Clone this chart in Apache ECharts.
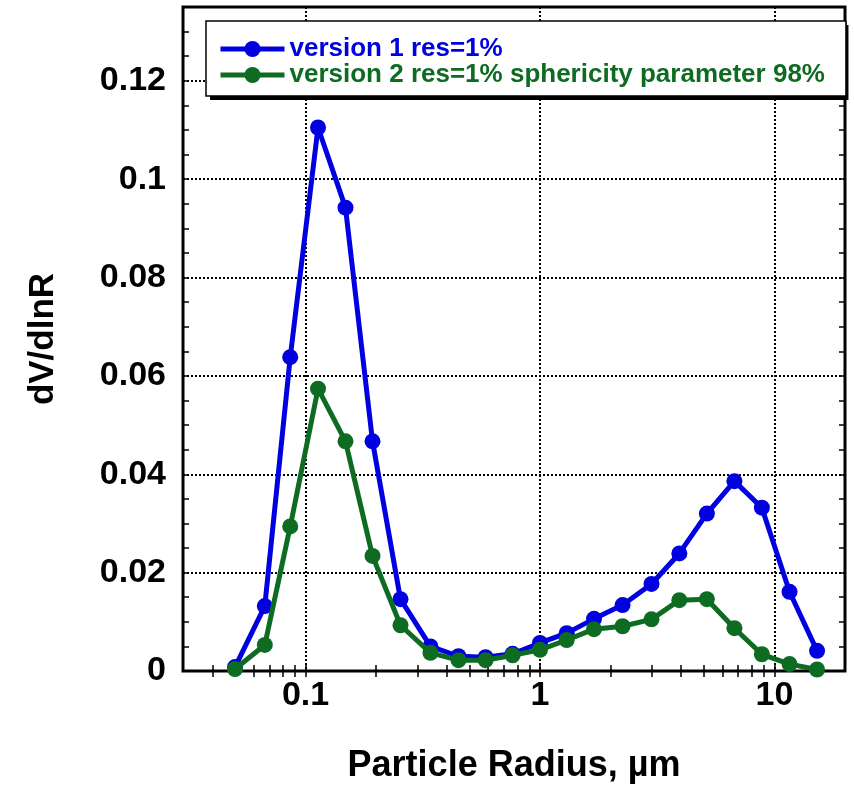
<!DOCTYPE html>
<html>
<head>
<meta charset="utf-8">
<script src="https://cdn.jsdelivr.net/npm/echarts@6.0.0/dist/echarts.min.js"></script>
<style>
  html, body { margin: 0; padding: 0; background: #fff; }
  #chart { width: 854px; height: 787px; }
</style>
</head>
<body>
<div id="chart"></div>
<script>
// ---- data ----
const radius = [0.05, 0.067, 0.086, 0.113, 0.148, 0.193, 0.254, 0.341, 0.449, 0.586, 0.764, 1.0, 1.30, 1.70, 2.25, 2.99, 3.93, 5.15, 6.75, 8.84, 11.6, 15.2];
const version1 = [0.0008, 0.0132, 0.0638, 0.1105, 0.0942, 0.0467, 0.0146, 0.0050, 0.0030, 0.0028, 0.0035, 0.0057, 0.0077, 0.0106, 0.0134, 0.0177, 0.0239, 0.0320, 0.0386, 0.0332, 0.0161, 0.0041];
const version2 = [0.0004, 0.0053, 0.0294, 0.0574, 0.0467, 0.0234, 0.0093, 0.0037, 0.0022, 0.0022, 0.0032, 0.0043, 0.0063, 0.0085, 0.0091, 0.0105, 0.0144, 0.0146, 0.0087, 0.0034, 0.0014, 0.0003];
const seriesNames = ['version 1 res=1%', 'version 2 res=1% sphericity parameter 98%'];
const xMajorTicks = [0.1, 1, 10];
const xMinorTicks = [0.04, 0.05, 0.06, 0.07, 0.08, 0.09, 0.2, 0.3, 0.4, 0.5, 0.6, 0.7, 0.8, 0.9, 2, 3, 4, 5, 6, 7, 8, 9];
const yMinorTicks = [0.005, 0.01, 0.015, 0.02, 0.025, 0.03, 0.035, 0.04, 0.045, 0.05, 0.055, 0.06, 0.065, 0.07, 0.075, 0.08, 0.085, 0.09, 0.095, 0.1, 0.105, 0.11, 0.115, 0.12, 0.125, 0.13];

const BLUE = '#0000e0';
const GREEN = '#0e6b22';
const FONT = '"Liberation Sans", Arial, sans-serif';

const pairs = (xs, ys) => xs.map((x, i) => [x, ys[i]]);

const X_MIN = 0.03, X_MAX = 20, Y_MIN = 0, Y_MAX = 0.135;

const chart = echarts.init(document.getElementById('chart'), null, { renderer: 'canvas' });

const tickStyle = { color: '#000', width: 1.5 };
const hiddenLine = { show: false };

const legendLayout = {
  orient: 'vertical',
  left: 206, top: 21,
  padding: [15, 21, 8, 12],
  itemWidth: 64, itemHeight: 20, itemGap: 0,
  backgroundColor: '#fff',
  selectedMode: false
};
const legendFont = { fontFamily: FONT, fontWeight: 'bold', fontSize: 26 };

chart.setOption({
  animation: false,
  backgroundColor: '#fff',
  grid: {
    left: 183, right: 9, top: 7, bottom: 116,
    show: true, borderColor: '#000', borderWidth: 3, backgroundColor: 'transparent',
    containLabel: false, outerBoundsMode: 'none'
  },
  legend: [
    Object.assign({}, legendLayout, {
      z: 5,
      borderWidth: 0,
      shadowColor: '#000', shadowBlur: 0, shadowOffsetX: 4, shadowOffsetY: 4,
      textStyle: Object.assign({ color: 'rgba(0,0,0,0)' }, legendFont),
      itemStyle: { opacity: 0 }, lineStyle: { opacity: 0 },
      data: [
        { name: seriesNames[0], textStyle: { color: 'rgba(0,0,0,0)' } },
        { name: seriesNames[1], textStyle: { color: 'rgba(0,0,0,0)' } }
      ]
    }),
    Object.assign({}, legendLayout, {
      z: 6,
      borderColor: '#000', borderWidth: 1.5,
      textStyle: legendFont,
      lineStyle: { width: 5 },
      data: [
        { name: seriesNames[0], textStyle: { color: BLUE } },
        { name: seriesNames[1], textStyle: { color: GREEN } }
      ]
    })
  ],
  xAxis: [
    {
      type: 'log', logBase: 10, min: X_MIN, max: X_MAX, position: 'bottom',
      name: 'Particle Radius, µm', nameLocation: 'middle', nameGap: 77,
      nameTextStyle: { fontFamily: FONT, fontWeight: 'bold', fontSize: 36, color: '#000' },
      axisLine: hiddenLine,
      axisTick: { show: true, inside: true, length: 7, lineStyle: tickStyle, customValues: xMajorTicks },
      axisLabel: { show: true, customValues: xMajorTicks, margin: 8, fontFamily: FONT, fontWeight: 'bold', fontSize: 34, color: '#000' },
      splitLine: { show: true, lineStyle: { color: '#000', width: 2, type: [2, 2] } },
      minorTick: { show: false }, minorSplitLine: { show: false }
    },
    {
      type: 'log', logBase: 10, min: X_MIN, max: X_MAX, position: 'bottom',
      axisLine: hiddenLine,
      axisTick: { show: true, inside: true, length: 6, lineStyle: tickStyle, customValues: xMinorTicks },
      axisLabel: { show: false },
      splitLine: { show: false }
    },
    {
      type: 'log', logBase: 10, min: X_MIN, max: X_MAX, position: 'top',
      axisLine: hiddenLine,
      axisTick: { show: true, inside: true, length: 6, lineStyle: tickStyle, customValues: xMajorTicks.concat(xMinorTicks) },
      axisLabel: { show: false },
      splitLine: { show: false }
    }
  ],
  yAxis: [
    {
      type: 'value', min: Y_MIN, max: Y_MAX, interval: 0.02, position: 'left',
      name: 'dV/dlnR', nameLocation: 'middle', nameGap: 122, nameRotate: 90,
      nameTextStyle: { fontFamily: FONT, fontWeight: 'bold', fontSize: 35, color: '#000' },
      axisLine: hiddenLine,
      axisTick: { show: false },
      axisLabel: { show: true, showMaxLabel: false, margin: 17, fontFamily: FONT, fontWeight: 'bold', fontSize: 34, color: '#000' },
      splitLine: { show: true, lineStyle: { color: '#000', width: 2, type: [2, 2] } }
    },
    {
      type: 'value', min: Y_MIN, max: Y_MAX, position: 'left',
      axisLine: hiddenLine,
      axisTick: { show: true, inside: true, length: 6, lineStyle: tickStyle, customValues: yMinorTicks },
      axisLabel: { show: false },
      splitLine: { show: false }
    },
    {
      type: 'value', min: Y_MIN, max: Y_MAX, position: 'right',
      axisLine: hiddenLine,
      axisTick: { show: true, inside: true, length: 6, lineStyle: tickStyle, customValues: yMinorTicks },
      axisLabel: { show: false },
      splitLine: { show: false }
    }
  ],
  series: [
    {
      name: seriesNames[0], type: 'line', xAxisIndex: 0, yAxisIndex: 0,
      data: pairs(radius, version1),
      color: BLUE,
      lineStyle: { width: 5, color: BLUE },
      itemStyle: { color: BLUE },
      symbol: 'circle', symbolSize: 16, showAllSymbol: true, clip: false,
      z: 3
    },
    {
      name: seriesNames[1], type: 'line', xAxisIndex: 0, yAxisIndex: 0,
      data: pairs(radius, version2),
      color: GREEN,
      lineStyle: { width: 5, color: GREEN },
      itemStyle: { color: GREEN },
      symbol: 'circle', symbolSize: 16, showAllSymbol: true, clip: false,
      z: 4
    }
  ]
});
</script>
</body>
</html>
